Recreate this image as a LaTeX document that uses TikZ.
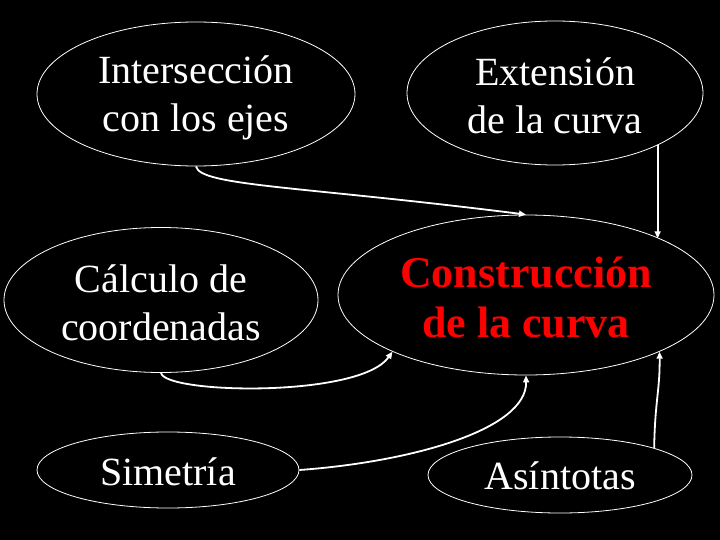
\documentclass[tikz,border=0pt]{standalone}
\usepackage{fontspec}
\setmainfont{Liberation Serif}
\usetikzlibrary{shapes.geometric,arrows.meta}
\begin{document}
\begin{tikzpicture}[x=1pt,y=-1pt,
  oval/.style={ellipse,draw=white,line width=0.8pt,inner sep=0pt},
  txt/.style={text=white,align=center,inner sep=0pt,font=\fontsize{40}{48}\selectfont},
  conn/.style={draw=white,line width=1.8pt,-{Triangle[length=7pt,width=6pt]}}]
\fill[black] (0,0) rectangle (720,540);
\useasboundingbox (0,0) rectangle (720,540);
\node[oval,minimum width=318pt,minimum height=144pt] (e1) at (196,94) {};
\node[oval,minimum width=296pt,minimum height=144pt] (e2) at (555,93) {};
\node[oval,minimum width=314pt,minimum height=145pt] (e3) at (161,300) {};
\node[oval,minimum width=376pt,minimum height=160pt] (e4) at (526,295) {};
\node[oval,minimum width=262pt,minimum height=76pt] (e5) at (168,470) {};
\node[oval,minimum width=264pt,minimum height=76pt] (e6) at (560,475) {};
\node[txt] (t1) at (196,98) {Intersección\\con los ejes};
\node[txt] (t2) at (555,96) {Extensión\\de la curva};
\node[txt] (t3) at (161,303) {Cálculo de\\coordenadas};
\node[txt,text=red,font=\fontsize{44}{50}\selectfont\bfseries] (t4) at (526,297) {Construcción\\de la curva};
\node[txt] (t5) at (168,472) {Simetría};
\node[txt] (t6) at (560,476) {Asíntotas};
\draw[conn] (e1.south) .. controls (200,186) and (300,186) .. (e4.north);
\draw[conn] (e2.-27) -- (e2.-27 |- e4.23);
\draw[conn] (e3.south) .. controls (165,394) and (360,398) .. (e4.-157);
\draw[conn] (e5.east) .. controls (410,462) and (527,430) .. (e4.south);
\draw[conn] (e6.16) .. controls (655,400) and (660,390) .. (e4.-23);
\end{tikzpicture}
\end{document}
